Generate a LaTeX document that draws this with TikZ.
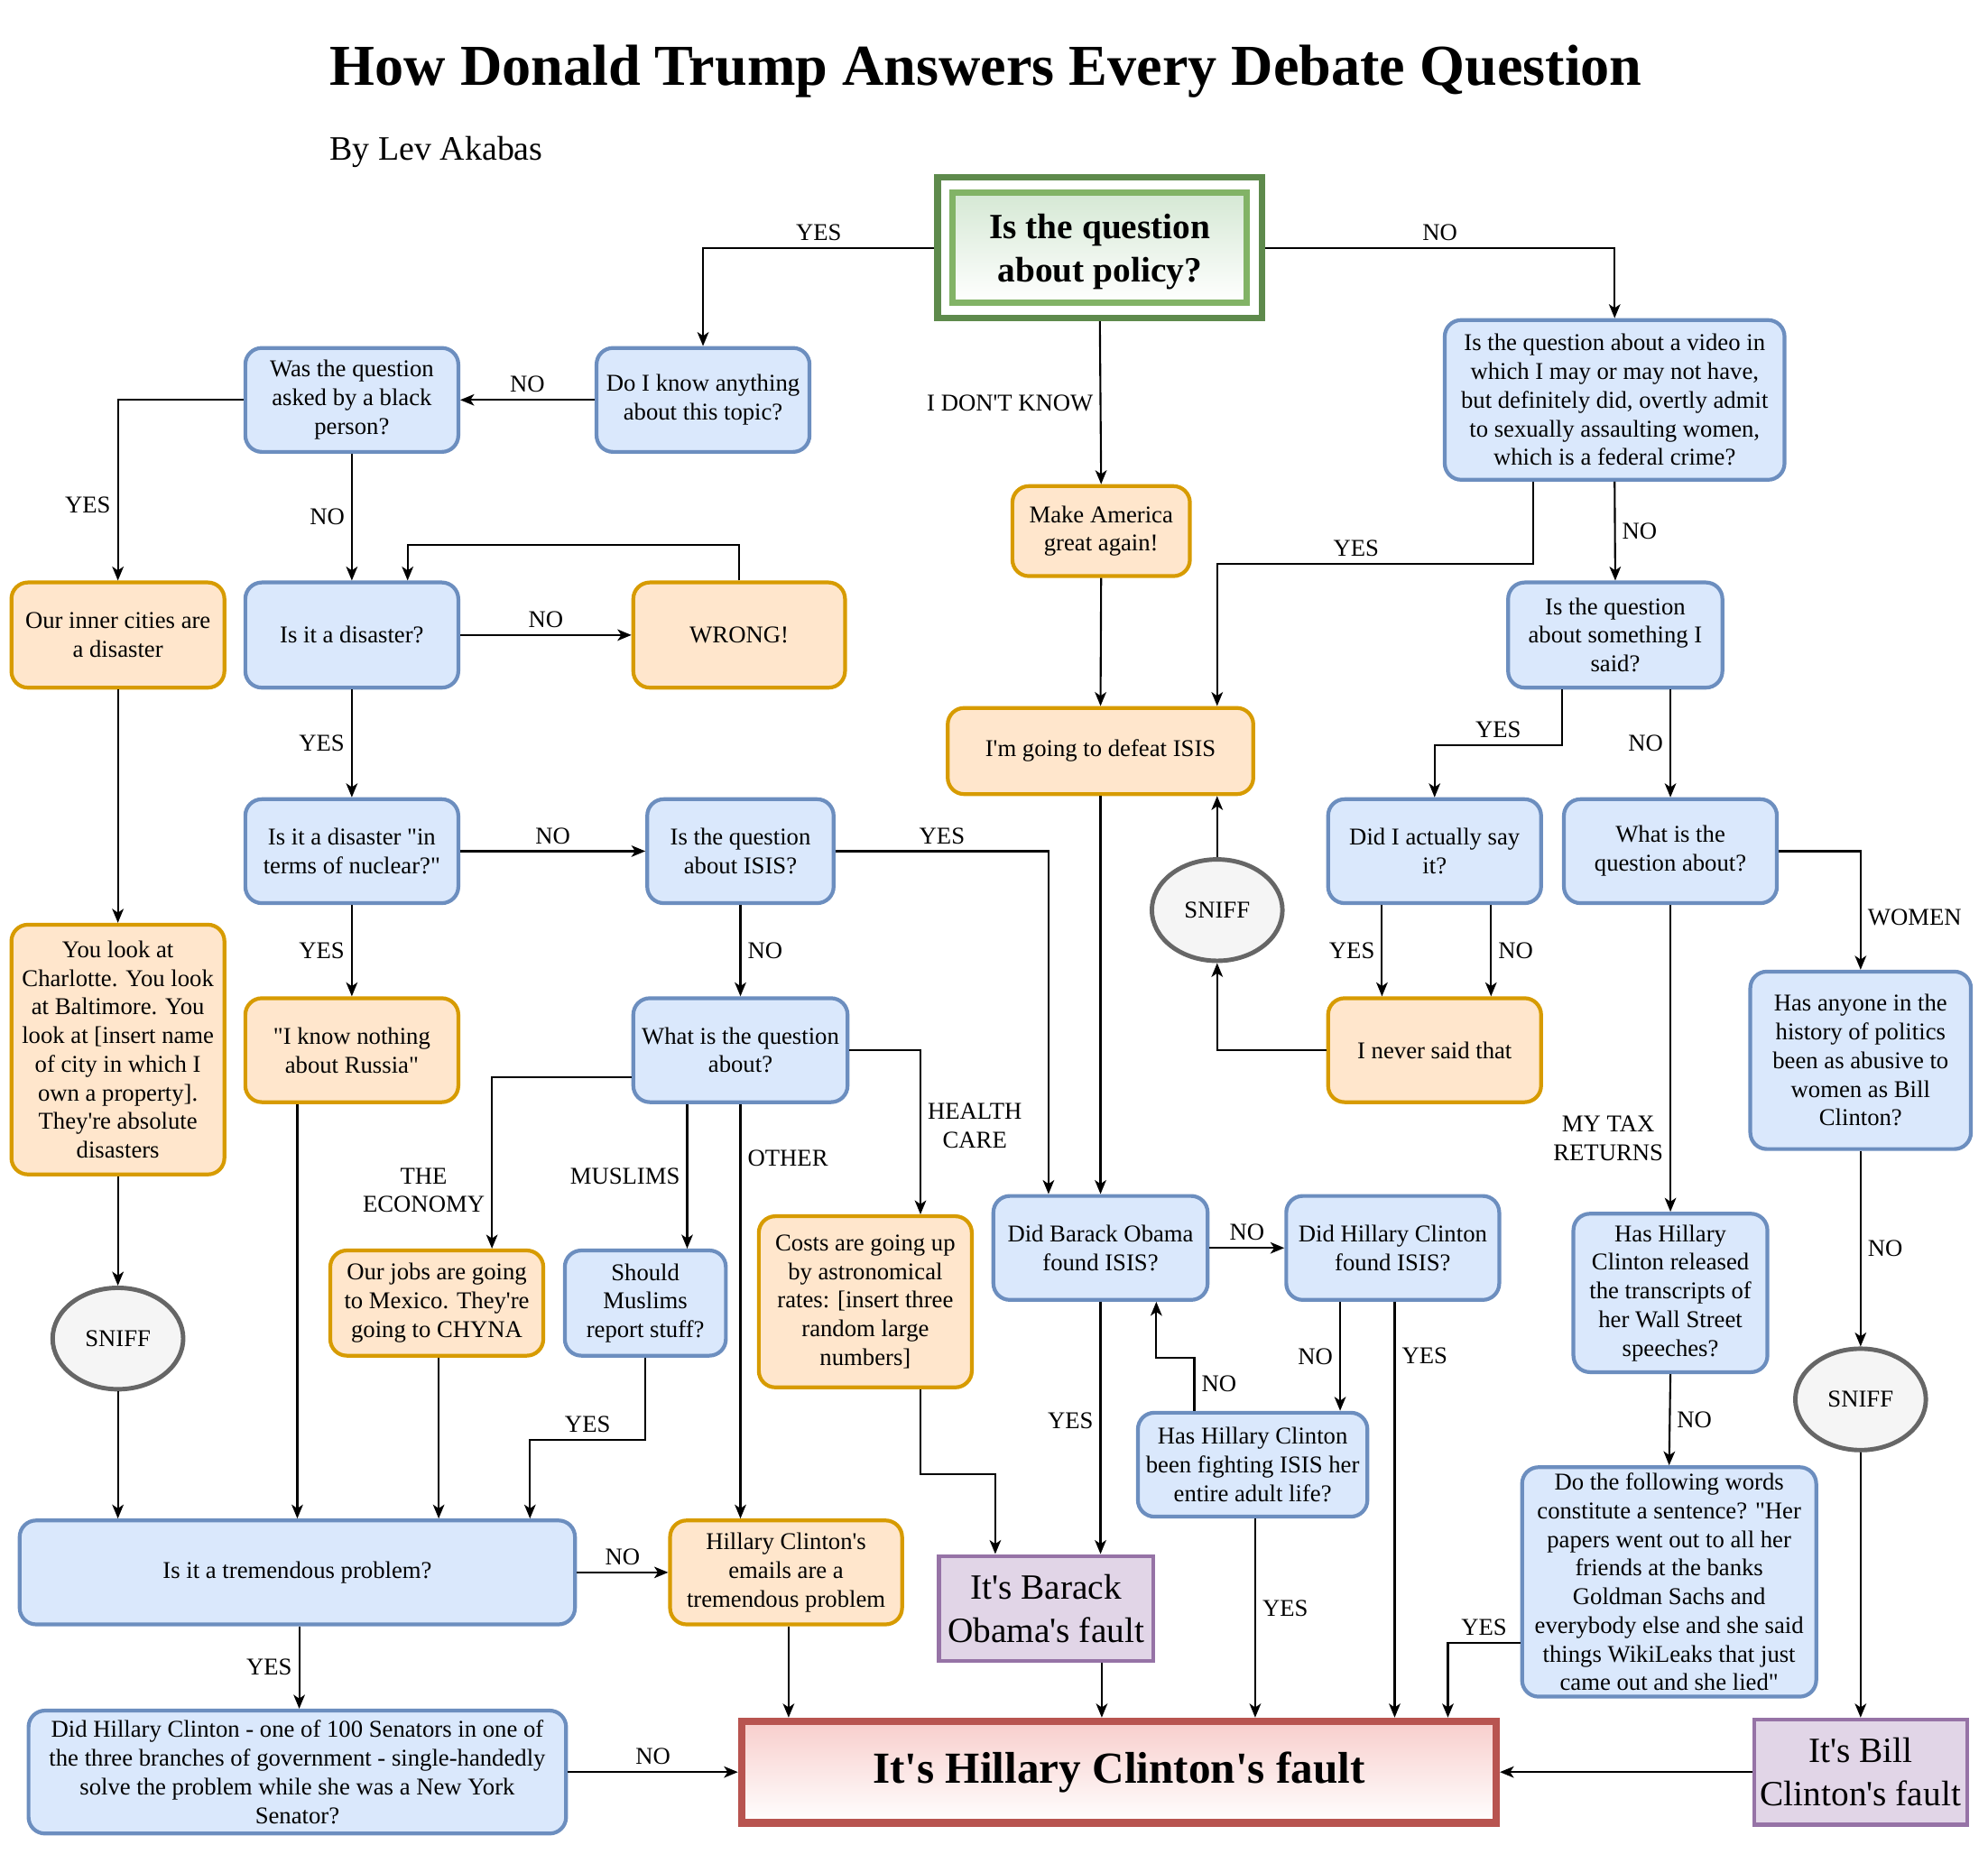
\documentclass[tikz,border=0pt]{standalone}
\usepackage{fontspec}
\setmainfont{Liberation Serif}
\newfontfamily\chartfont{Liberation Serif}
\usetikzlibrary{arrows.meta,shapes.geometric,fit}
\definecolor{bluefill}{HTML}{DAE8FC}
\definecolor{blueline}{HTML}{6C8EBF}
\definecolor{orangefill}{HTML}{FFE6CC}
\definecolor{orangeline}{HTML}{D79B00}
\definecolor{greenfill}{HTML}{D5E8D4}
\definecolor{greenline}{HTML}{82B366}
\definecolor{greendark}{HTML}{5E8A4C}
\definecolor{redfill}{HTML}{F8CECC}
\definecolor{redline}{HTML}{B85450}
\definecolor{purplefill}{HTML}{E1D5E7}
\definecolor{purpleline}{HTML}{9673A6}
\definecolor{greyfill}{HTML}{F5F5F5}
\definecolor{greyline}{HTML}{666666}
\begin{document}
\begin{tikzpicture}[x=1pt,y=-1pt,>={Stealth[length=11pt,width=9pt,inset=3pt]},
  every node/.style={font=\chartfont\fontsize{19}{22.6}\selectfont},
  sz/.style 2 args={minimum width=#1pt,minimum height=#2pt},
  box/.style={align=center,line width=3pt,rounded corners=13pt,inner sep=2pt},
  ask/.style={box,fill=bluefill,draw=blueline},
  say/.style={box,fill=orangefill,draw=orangeline},
  fault/.style={align=center,line width=3pt,fill=purplefill,draw=purpleline,
    font=\chartfont\fontsize{28}{34}\selectfont},
  sniff/.style={ellipse,line width=3.5pt,fill=greyfill,draw=greyline,sz={103}{80}},
  lbl/.style={inner sep=5pt,align=center},
  link/.style={->,line width=1.5pt}]
\useasboundingbox (0,0) rectangle (1568,1462);

\node[anchor=base west,inner sep=0,font=\chartfont\bfseries\fontsize{45.7}{52}\selectfont] (title) at (260,67) {How Donald Trump Answers Every Debate Question};
\node[anchor=base west,inner sep=0,font=\chartfont\fontsize{27}{32}\selectfont] (author) at (260,126) {By Lev Akabas};

\node[draw=greenline,line width=5pt,top color=greenfill,bottom color=white,sz={232}{87},align=center,text depth=0pt,
  font=\chartfont\bfseries\fontsize{28}{34}\selectfont] (qpolin) at (867.5,195.5) {Is the question\\about policy?};
\node[fit=(qpolin),draw=greendark,line width=5pt,inner sep=9.5pt] (qpol) {};

\node[ask,sz={168}{82}] (know) at (554.5,315.5) {Do I know anything\\about this topic?};
\node[ask,sz={168}{82}] (black) at (277.5,315.5) {Was the question\\asked by a black\\person?};
\node[say,sz={168}{83}] (inner) at (93,501) {Our inner cities are\\a disaster};
\node[ask,sz={168}{83}] (disaster) at (277.5,501) {Is it a disaster?};
\node[say,sz={167}{83}] (wrong) at (583,501) {WRONG!};
\node[ask,sz={168}{82}] (nuclear) at (277.5,671.5) {Is it a disaster "in\\terms of nuclear?"};
\node[ask,sz={147}{82}] (isis) at (584,671.5) {Is the question\\about ISIS?};
\node[say,sz={168}{82}] (russia) at (277.5,828.5) {"I know nothing\\about Russia"};
\node[ask,sz={169}{82}] (about) at (584,828.5) {What is the question\\about?};
\node[say,sz={168}{197}] (charlotte) at (93,828) {You look at\\Charlotte. You look\\at Baltimore. You\\look at [insert name\\of city in which I\\own a property].\\They're absolute\\disasters};
\node[sniff] (sniffa) at (93,1056) {SNIFF};
\node[say,sz={168}{83}] (jobs) at (344.5,1028) {Our jobs are going\\to Mexico. They're\\going to CHYNA};
\node[ask,sz={127}{83}] (muslims) at (509,1028) {Should\\Muslims\\report stuff?};
\node[say,sz={168}{135}] (costs) at (682.5,1027) {Costs are going up\\by astronomical\\rates: [insert three\\random large\\numbers]};
\node[ask,sz={438}{82}] (tremendous) at (234.5,1240.5) {Is it a tremendous problem?};
\node[say,sz={183}{82}] (emails) at (620,1240.5) {Hillary Clinton's\\emails are a\\tremendous problem};
\node[ask,sz={424}{97}] (senators) at (234.5,1398) {Did Hillary Clinton - one of 100 Senators in one of\\the three branches of government - single-handedly\\solve the problem while she was a New York\\Senator?};
\node[draw=redline,line width=6pt,top color=redfill,bottom color=white,sz={595}{80},
  font=\chartfont\bfseries\fontsize{35}{40}\selectfont] (hcfault) at (882.5,1398) {It's Hillary Clinton's fault};
\node[fault,sz={169}{83}] (obamafault) at (825,1269) {It's Barack\\Obama's fault};
\node[fault,sz={168}{83}] (billfault) at (1467.5,1398) {It's Bill\\Clinton's fault};

\node[say,sz={140}{71}] (maga) at (868.5,419) {Make America\\great again!};
\node[say,sz={241}{68}] (defeat) at (868,592.5) {I'm going to defeat ISIS};
\node[ask,sz={268}{126}] (video) at (1273.5,315.5) {Is the question about a video in\\which I may or may not have,\\but definitely did, overtly admit\\to sexually assaulting women,\\which is a federal crime?};
\node[ask,sz={169}{83}] (said) at (1274,501) {Is the question\\about something I\\said?};
\node[ask,sz={168}{82}] (actually) at (1131.5,671.5) {Did I actually say\\it?};
\node[ask,sz={168}{82}] (whatabout) at (1317.5,671.5) {What is the\\question about?};
\node[sniff] (sniffb) at (960,718) {SNIFF};
\node[say,sz={168}{82}] (never) at (1131.5,828.5) {I never said that};
\node[ask,sz={169}{82}] (obama) at (868,984.5) {Did Barack Obama\\found ISIS?};
\node[ask,sz={168}{82}] (hillary) at (1098.5,984.5) {Did Hillary Clinton\\found ISIS?};
\node[ask,sz={181}{82}] (fighting) at (988,1155.5) {Has Hillary Clinton\\been fighting ISIS her\\entire adult life?};
\node[ask,sz={174}{140}] (abusive) at (1467.5,836.5) {Has anyone in the\\history of politics\\been as abusive to\\women as Bill\\Clinton?};
\node[ask,sz={153}{125}] (transcripts) at (1317.5,1020) {Has Hillary\\Clinton released\\the transcripts of\\her Wall Street\\speeches?};
\node[ask,sz={232}{181}] (sentence) at (1316.5,1248) {Do the following words\\constitute a sentence? "Her\\papers went out to all her\\friends at the banks\\Goldman Sachs and\\everybody else and she said\\things WikiLeaks that just\\came out and she lied"};
\node[sniff] (sniffc) at (1467.5,1104) {SNIFF};

\draw[link] (qpol.west) -| node[lbl,above,pos=0.25]{YES} (know.north);
\draw[link] (qpol.east) -| node[lbl,above,pos=0.25]{NO} (video.north);
\draw[link] (qpol.south) -- node[lbl,left]{I DON'T KNOW} (maga.north);
\draw[link] (know.west) -- node[lbl,above]{NO} (black.east);
\draw[link] (black.west) -| node[lbl,left,pos=0.79]{YES} (inner.north);
\draw[link] (black.south) -- node[lbl,left]{NO} (disaster.north);
\draw[link] (wrong.north) -- ++(0,-28) -| ([xshift=44pt]disaster.north);
\draw[link] (disaster.east) -- node[lbl,above]{NO} (wrong.west);
\draw[link] (disaster.south) -- node[lbl,left]{YES} (nuclear.north);
\draw[link] (nuclear.east) -- node[lbl,above]{NO} (isis.west);
\draw[link] (nuclear.south) -- node[lbl,left]{YES} (russia.north);
\draw[link] (isis.east) -| node[lbl,above,pos=0.25]{YES} ([xshift=-41pt]obama.north);
\draw[link] (isis.south) -- node[lbl,right]{NO} (about.north);
\draw[link] ([yshift=-21.5pt]about.west) -| node[lbl,left,pos=0.83]{THE\\ECONOMY} ([xshift=43.5pt]jobs.north);
\draw[link] ([xshift=-42pt]about.south) -- node[lbl,left]{MUSLIMS} ([xshift=33pt]muslims.north);
\draw[link] (about.south) -- node[lbl,right,pos=0.13]{OTHER} (about.south |- emails.north);
\draw[link] (about.east) -| node[lbl,right,pos=0.73]{HEALTH\\CARE} ([xshift=43.5pt]costs.north);
\draw[link] (inner.south) -- (charlotte.north);
\draw[link] (charlotte.south) -- (sniffa.north);
\draw[link] (sniffa.south) -- (sniffa.south |- tremendous.north);
\draw[link] (russia.south -| tremendous.north) -- (tremendous.north);
\draw[link] ([xshift=1.5pt]jobs.south) -- ([xshift=1.5pt]jobs.south |- tremendous.north);
\draw[link] (muslims.south) -- ++(0,65) -| node[lbl,above,pos=0.25]{YES} ([xshift=183.5pt]tremendous.north);
\draw[link] (tremendous.east) -- node[lbl,above]{NO} (emails.west);
\draw[link] ([xshift=1.5pt]tremendous.south) -- node[lbl,left]{YES} ([xshift=1.5pt]senators.north);
\draw[link] (senators.east) -- node[lbl,above]{NO} (hcfault.west);
\draw[link] ([xshift=2pt]emails.south) -- ([xshift=2pt]emails.south |- hcfault.north);
\draw[link] ([xshift=43.5pt]costs.south) -- ++(0,67) -| ([xshift=-40pt]obamafault.north);
\draw[link] ([xshift=44pt]obamafault.south) -- ([xshift=44pt]obamafault.south |- hcfault.north);
\draw[link] (maga.south) -- (defeat.north);
\draw[link] (defeat.south) -- (defeat.south |- obama.north);
\draw[link] ([xshift=-64.5pt]video.south) -- ++(0,65) -| node[lbl,above,pos=0.28]{YES} ([xshift=92pt]defeat.north);
\draw[link] (video.south) -- node[lbl,right]{NO} (said.north);
\draw[link] ([xshift=-42pt]said.south) -- ++(0,44) -| node[lbl,above,pos=0.25]{YES} (actually.north);
\draw[link] ([xshift=43.5pt]said.south) -- node[lbl,left]{NO} (whatabout.north);
\draw[link] ([xshift=-41.5pt]actually.south) -- node[lbl,left]{YES} ([xshift=-41.5pt]never.north);
\draw[link] ([xshift=44.5pt]actually.south) -- node[lbl,right]{NO} ([xshift=44.5pt]never.north);
\draw[link] (never.west) -| (sniffb.south);
\draw[link] (sniffb.north) -- (sniffb.north |- defeat.south);
\draw[link] (whatabout.east) -| node[lbl,right,pos=0.78]{WOMEN} (abusive.north);
\draw[link] (whatabout.south) -- node[lbl,left,pos=0.76]{MY TAX\\RETURNS} (transcripts.north);
\draw[link] (abusive.south) -- node[lbl,right]{NO} (sniffc.north);
\draw[link] (sniffc.south) -- (billfault.north);
\draw[link] (billfault.west) -- (hcfault.east);
\draw[link] (transcripts.south) -- node[lbl,right]{NO} (sentence.north);
\draw[link] ([yshift=-48pt]sentence.west) -| node[lbl,above,pos=0.25]{YES} ([xshift=259.5pt]hcfault.north);
\draw[link] (obama.east) -- node[lbl,above]{NO} (hillary.west);
\draw[link] (obama.south) -- node[lbl,left,pos=0.47]{YES} ([xshift=43pt]obamafault.north);
\draw[link] ([xshift=-41.5pt]hillary.south) -- node[lbl,left]{NO} ([xshift=69pt]fighting.north);
\draw[link] ([xshift=1.5pt]hillary.south) -- node[lbl,right,pos=0.13]{YES} ([xshift=217.5pt]hcfault.north);
\draw[link] ([xshift=-46pt]fighting.north) -- node[lbl,right]{NO} ++(0,-42) -| ([xshift=44pt]obama.south);
\draw[link] ([xshift=2pt]fighting.south) -- node[lbl,right,pos=0.45]{YES} ([xshift=107.5pt]hcfault.north);
\end{tikzpicture}
\end{document}
